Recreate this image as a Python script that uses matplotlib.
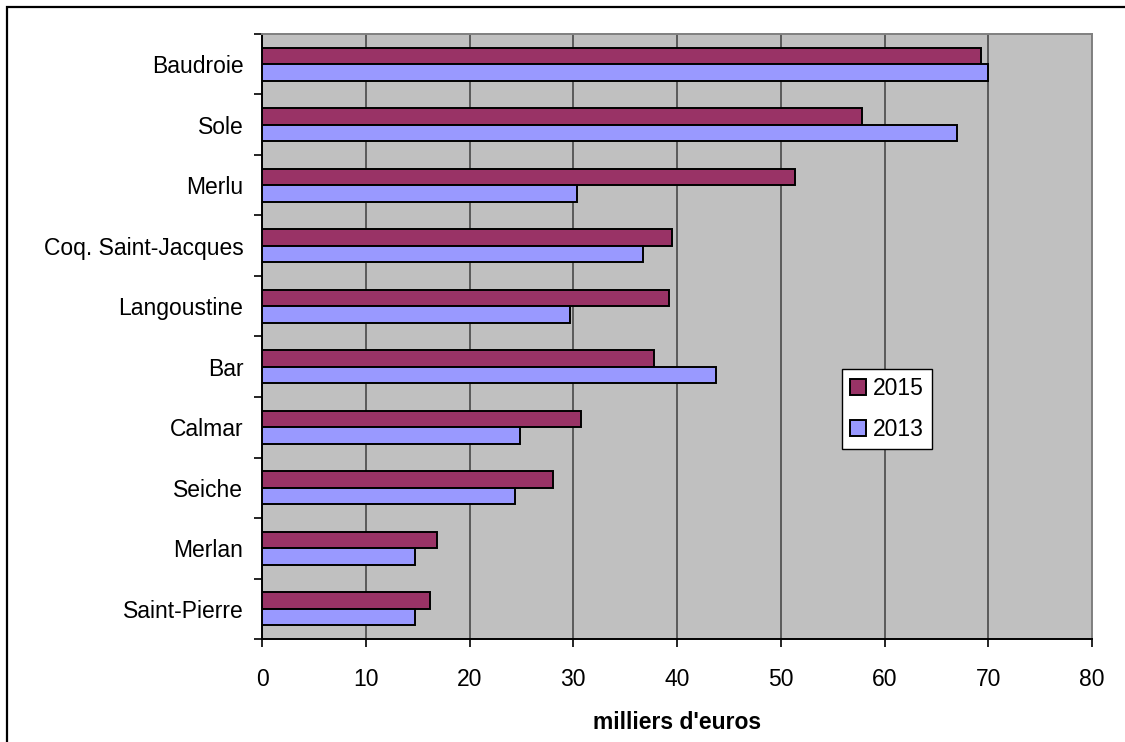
import numpy as np
import matplotlib.pyplot as plt
from matplotlib.patches import Rectangle

plt.rcParams['font.family'] = ['Liberation Sans', 'DejaVu Sans']

# Species, listed bottom to top
especes = ['Saint-Pierre', 'Merlan', 'Seiche', 'Calmar', 'Bar',
           'Langoustine', 'Coq. Saint-Jacques', 'Merlu', 'Sole', 'Baudroie']
val_2015 = [16.2, 16.9, 28.0, 30.7, 37.8, 39.2, 39.5, 51.4, 57.8, 69.3]
val_2013 = [14.7, 14.7, 24.4, 24.9, 43.8, 29.7, 36.7, 30.4, 67.0, 70.0]
xticks = [0, 10, 20, 30, 40, 50, 60, 70, 80]

fig = plt.figure(figsize=(11.25, 7.42), dpi=100)
ax = fig.add_axes([0.2329, 0.1388, 0.9707 - 0.2329, 0.9542 - 0.1388])

# outer chart frame (clipped on the right and bottom)
fig.patches.append(Rectangle((7 / 1125, -0.05), 1.2, 1 - 7 / 742 + 0.05,
                             transform=fig.transFigure, fill=False,
                             edgecolor='black', linewidth=1.6, zorder=0))

ax.set_facecolor('#C0C0C0')
y = np.arange(len(especes))
h = 0.275
ax.barh(y + h / 2, val_2015, height=h, color='#993366', edgecolor='black',
        linewidth=1.4, label='2015', zorder=3)
ax.barh(y - h / 2, val_2013, height=h, color='#9999FF', edgecolor='black',
        linewidth=1.4, label='2013', zorder=3)

ax.set_xlim(0, 80)
ax.set_ylim(-0.5, len(especes) - 0.5)
ax.set_xticks(xticks)
ax.set_xticklabels([str(v) for v in xticks], fontsize=16.5)
ax.xaxis.grid(True, color='#5A5A5A', linewidth=1.4, zorder=1)
ax.set_axisbelow(True)

# category labels centred, ticks at the category boundaries
ax.set_yticks(y)
ax.set_yticklabels(especes, fontsize=16.5)
ax.set_yticks(np.arange(len(especes) + 1) - 0.5, minor=True)
ax.tick_params(axis='y', which='major', length=0, pad=13.5)
ax.tick_params(axis='y', which='minor', length=6, width=1.2, direction='out')
ax.tick_params(axis='x', length=6, width=1.2, direction='out', pad=15)

for side in ['left', 'bottom']:
    ax.spines[side].set_color('black')
    ax.spines[side].set_linewidth(1.4)
for side in ['top', 'right']:
    ax.spines[side].set_color('#808080')
    ax.spines[side].set_linewidth(1.4)

ax.set_xlabel("milliers d'euros", fontsize=16.5, fontweight='bold', labelpad=14)

leg = ax.legend(loc='upper left', bbox_to_anchor=(842 / 1125, 1 - 369 / 742),
                bbox_transform=fig.transFigure, fontsize=16.5, frameon=True,
                fancybox=False, edgecolor='black', framealpha=1,
                handlelength=0.7, handleheight=0.7, handletextpad=0.3,
                labelspacing=0.8, borderpad=0.35, borderaxespad=0)
leg.get_frame().set_linewidth(1.0)

fig.savefig('out.png', dpi=100)
